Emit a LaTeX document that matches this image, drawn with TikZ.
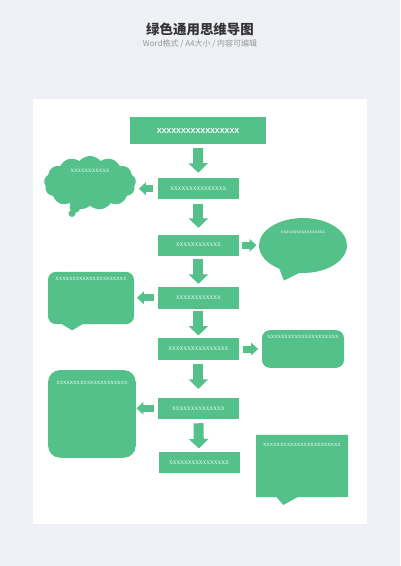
\documentclass[tikz,border=0pt]{standalone}
\usepackage{fontspec}
\setmainfont{Liberation Serif}
\newfontfamily\cjk{Noto Sans CJK SC}
\newfontfamily\boxsans{Liberation Sans}
\definecolor{leaf}{RGB}{84,193,138}
\definecolor{paper}{RGB}{238,240,245}
\definecolor{titlegray}{RGB}{51,51,51}
\definecolor{subgray}{RGB}{150,150,150}
\usetikzlibrary{arrows.meta,calc,positioning,shapes.symbols,shapes.geometric,shapes.callouts}

\begin{document}
\begin{tikzpicture}[
  x=1bp,
  y=-1bp,
  >=Triangle,
  box/.style={
    fill=leaf,
    minimum width=81bp,
    minimum height=21.5bp,
    inner sep=0pt,
    text=white,
    font=\fontsize{5.2}{6}\selectfont
  },
  note/.style={fill=leaf,inner sep=0pt,rounded corners=8bp},
  notetext/.style={text=white,inner sep=0pt,font=\fontsize{4.7}{5}\selectfont},
  down/.style={draw=leaf,line width=10bp,-{Triangle[length=9.5bp,width=19bp]},
    shorten <=4bp,shorten >=5bp},
  side/.style={draw=leaf,line width=7bp,-{Triangle[length=7bp,width=12.5bp]},
    shorten <=4bp,shorten >=3bp}
]

% Page
\fill[paper] (0,0) rectangle (400,566);
\fill[white] (33,99.5) rectangle (367,523.5);
\useasboundingbox (0,0) rectangle (400,566);

% Title
\node[font=\cjk\bfseries\fontsize{13.5}{15}\selectfont,text=titlegray] (Title) at (200,29)
  {绿色通用思维导图};
\node[font=\cjk\fontsize{8}{9}\selectfont,text=subgray] (Subtitle) at (200,43.5)
  {Word格式 / A4大小 / 内容可编辑};

% Main steps
\node[box,minimum width=136bp,minimum height=27bp,font=\boxsans\bfseries\fontsize{7.3}{8}\selectfont]
  (Bone) at (198,130.5) {XXXXXXXXXXXXXXXXX};
\node[box] (Btwo)   at (198.4,188.7) {XXXXXXXXXXXXXXX};
\node[box] (Bthree) at (198.4,245.3) {XXXXXXXXXXXX};
\node[box] (Bfour)  at (198.4,297.8) {XXXXXXXXXXXX};
\node[box] (Bfive)  at (198.4,349)   {XXXXXXXXXXXXXXXX};
\node[box] (Bsix)   at (198.4,408.3) {XXXXXXXXXXXXXX};
\node[box] (Bseven) at (199,462.5)   {XXXXXXXXXXXXXXXX};

% Side notes
\node[cloud,fill=leaf,cloud puffs=13,cloud puff arc=100,aspect=1.8,
  minimum width=92bp,minimum height=54bp,inner sep=0pt] (Cloud) at (90,183) {};
\fill[leaf] ($(Cloud.south)+(-15,1.5)$) circle (5.5bp);
\fill[leaf] ($(Cloud.south)+(-18,7.5)$) circle (3.5bp);
\node[notetext,font=\fontsize{4.9}{5}\selectfont,below=13bp of Cloud.north] {XXXXXXXXXXX};

\coordinate (OvalTip) at (284,280.5);
\node[ellipse callout,fill=leaf,minimum width=88bp,minimum height=55bp,inner sep=0pt,
  callout absolute pointer=(OvalTip),callout pointer arc=28] (Oval) at (303,245.5) {};
\node[notetext,font=\fontsize{5.2}{6}\selectfont,below=13bp of Oval.north] {xxxxxxxxxxxxxxxxx};

\node[note,minimum width=86bp,minimum height=52.3bp] (Nleft) at (91,298) {};
\fill[leaf] ($(Nleft.south west)+(13.7,-0.5)$) -- ($(Nleft.south west)+(24.3,6)$)
  -- ($(Nleft.south west)+(35.3,-0.5)$) -- cycle;
\node[notetext,below=5.7bp of Nleft.north] {XXXXXXXXXXXXXXXXXXXXX};

\node[note,minimum width=82bp,minimum height=37.7bp] (Nright) at (303,349) {};
\node[notetext,below=5.5bp of Nright.north] {XXXXXXXXXXXXXXXXXXXXX};

\node[note,rounded corners=12bp,minimum width=87.7bp,minimum height=87.7bp] (Nbig) at (91.9,413.9) {};
\node[notetext,below=11.4bp of Nbig.north] {XXXXXXXXXXXXXXXXXXXXX};

\coordinate (BoxTip) at (283.3,505);
\node[rectangle callout,fill=leaf,minimum width=92bp,minimum height=62.3bp,inner sep=0pt,
  callout absolute pointer=(BoxTip),callout pointer width=21bp] (Nbottom) at (302,466) {};
\node[notetext,below=8.4bp of Nbottom.north] {XXXXXXXXXXXXXXXXXXXXXXX};

% Arrows down
\draw[down] (Bone.south) -- (Btwo.north);
\draw[down,shorten >=6.5bp] (Btwo.south) -- (Bthree.north);
\draw[down,shorten <=3bp,shorten >=3bp] (Bthree.south) -- (Bfour.north);
\draw[down,shorten <=2.5bp,shorten >=2.5bp] (Bfour.south) -- (Bfive.north);
\draw[down,shorten >=8.5bp] (Bfive.south) -- (Bsix.north);
\draw[down,shorten >=3bp] (Bsix.south) -- (Bseven.north);

% Arrows to the side
\draw[side,shorten <=5bp] (Btwo.west) -- (Btwo.west -| Cloud.east);
\draw[side,shorten <=3bp,shorten >=2.3bp] (Bthree.east) -- (Bthree.east -| Oval.west);
\draw[side,shorten >=2.7bp] (Bfour.west) -- (Bfour.west -| Nleft.east);
\draw[side,shorten >=3.7bp] (Bfive.east) -- (Bfive.east -| Nright.west);
\draw[side,shorten >=0.5bp] (Bsix.west) -- (Bsix.west -| Nbig.east);
\end{tikzpicture}
\end{document}
